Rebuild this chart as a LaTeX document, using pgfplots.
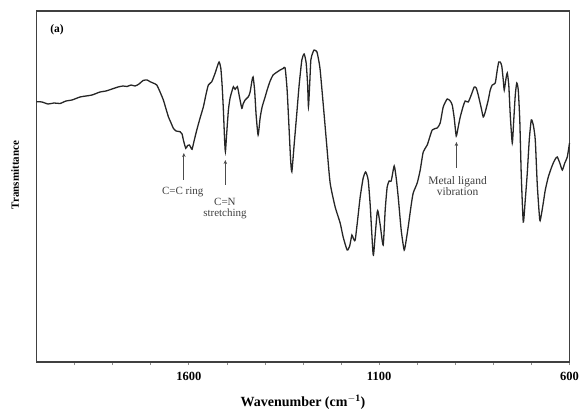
\documentclass[border=0pt]{standalone}
\usepackage{pgfplots}
\pgfplotsset{compat=1.18}
\usetikzlibrary{arrows.meta}
\usepackage{fontspec}
\setmainfont{Liberation Serif}
\begin{document}
\begin{tikzpicture}
\begin{axis}[
  scale only axis,
  width=533pt, height=351pt,
  x dir=reverse,
  xmin=600, xmax=2000,
  ymin=0, ymax=351,
  axis line style={black!75, line width=1.3pt},
  xtick={600,1100,1600},
  minor xtick={700,800,900,1000,1200,1300,1400,1500,1700,1800,1900},
  xtick pos=bottom,
  tick align=outside,
  major tick length=3pt, minor tick length=3pt,
  every tick/.style={black!45, line width=0.6pt},
  ytick=\empty,
  /pgf/number format/assume math mode=true,
  /pgf/number format/1000 sep={},
  xticklabel style={font=\bfseries\fontsize{12.5}{14}\selectfont, yshift=-4pt},
  clip=false,
]
\addplot[black!85, line width=1.3pt, smooth, tension=0.35] table {
2000 260.3
1985.5 260
1969.8 258
1954.0 259
1938.2 258.5
1922.5 261
1906.7 262
1885.7 265
1869.9 266
1854.1 267
1833.1 270
1817.3 271
1801.6 273
1785.8 275
1772.7 276
1762.2 275.5
1751.6 277
1741.1 276
1730.6 278
1720.1 281.5
1709.6 282
1701.7 280.3
1693.8 279
1684.1 277
1675.4 270
1666.8 262
1659.7 253
1653.6 245.3
1646.5 239
1640.5 233.7
1633.4 231
1622.9 230.3
1617.6 228
1614.2 222
1607.9 213.7
1603.2 216.5
1598.4 217
1594.0 214
1591.3 212.7
1586.1 221
1579.0 232
1570.3 244
1561.6 255.3
1554.5 268
1548.5 277
1539.6 280.3
1530.9 288.7
1525.6 295
1520.4 300
1515.9 294
1512.5 277
1509.1 252
1505.9 222
1503.8 210.3
1500.7 227
1495.9 252
1491.5 264
1487.0 270.3
1482.8 275.3
1478.3 272.7
1472.3 275.3
1467.8 267
1460.7 253.7
1457.3 258
1452.0 262
1443.4 265.3
1438.9 270
1433.7 282
1431.0 285
1427.1 272
1423.1 247
1417.9 227
1412.6 244
1407.4 255
1399.5 265
1394.2 272
1386.3 281
1378.5 287
1367.9 290
1360.1 292
1352.2 293.5
1346.9 294
1341.7 272
1336.4 232
1332.5 202
1329.3 190.3
1323.3 217
1316.2 249
1310.1 277
1303.0 302
1297.0 308
1291.7 299
1287.8 277
1285.7 255.3
1282.5 277
1279.4 302
1274.6 309
1270.7 312
1263.6 310.3
1258.9 302
1254.9 292
1246.3 255.3
1237.3 215.3
1228.7 179
1215.5 155
1202.4 139
1194.5 125
1184.0 112
1177.4 116
1171.6 127
1168.2 124
1162.9 122
1155.1 147
1149.8 165
1141.9 184
1135.4 190
1128.8 182
1123.5 157
1115.6 107
1110.4 127
1105.1 150
1102.5 150
1097.2 137
1089.4 117
1084.1 152
1078.9 175
1073.6 181
1068.3 181
1060.5 196
1055.2 184
1049.9 165
1042.1 132
1034.2 112
1028.9 122
1023.7 135
1015.8 157
1010.5 169
1000.0 179
992.1 192
984.2 210
973.7 217
960.6 232
947.5 234
939.6 239
931.7 255
921.2 263
913.3 261
908.0 257
902.8 244
897.5 226
892.3 235
887.0 245
879.1 256
873.9 261
866.0 260
858.1 267
850.2 275
845.0 274
839.7 267
831.8 254
826.5 245
821.3 250
813.4 262
808.2 272
802.9 277
795.0 279
789.8 292
785.8 300
781.9 300
777.9 296
774.0 282
771.4 272
767.4 282
763.5 289
759.5 277
755.6 247
750.3 219
746.4 242
742.4 267
738.5 279
734.6 272
730.6 242
726.7 187
721.4 140
716.2 162
710.9 189
705.7 222
700.4 242
695.1 237
689.9 222
684.6 177
678.1 142
674.1 147
668.9 159
663.6 172
655.7 185
647.8 194
642.6 199
637.3 203
632.1 205
625.5 199
618.9 192
612.4 199
605.8 205
600 219
};
% annotations
\draw[black!70, line width=0.7pt, -{Stealth[length=4pt,width=3.5pt]}] (axis cs:1613,182) -- (axis cs:1613,209);
\node[black!75, font=\fontsize{11}{12}\selectfont] at (axis cs:1616,170) {C=C ring};
\draw[black!70, line width=0.7pt, -{Stealth[length=4pt,width=3.5pt]}] (axis cs:1504,177) -- (axis cs:1504,202);
\node[black!75, font=\fontsize{11}{12}\selectfont, align=center] at (axis cs:1505,153) {C=N\\[-1pt]stretching};
\draw[black!70, line width=0.7pt, -{Stealth[length=4pt,width=3.5pt]}] (axis cs:897,194) -- (axis cs:897,220);
\node[black!75, font=\fontsize{11.5}{12.5}\selectfont, align=center] at (axis cs:894,176) {Metal ligand\\[-1pt]vibration};
\node[font=\bfseries\fontsize{11.5}{13}\selectfont] at (axis cs:1946,332) {(a)};
\node[rotate=90, font=\bfseries\fontsize{11}{13}\selectfont] at ([xshift=-21.5pt]rel axis cs:0,0.533) {Transmittance};
\node[font=\bfseries\fontsize{14}{16}\selectfont] at ([yshift=-40pt]rel axis cs:0.5,0) {Wavenumber (cm$^{\mathbf{-1}}$)};
\coordinate (sw) at (rel axis cs:0,0);
\coordinate (ne) at (rel axis cs:1,1);
\end{axis}
\pgfresetboundingbox
\path ([shift={(-36.5pt,-47pt)}]sw) rectangle ([shift={(10.5pt,11pt)}]ne);
\end{tikzpicture}
\end{document}
